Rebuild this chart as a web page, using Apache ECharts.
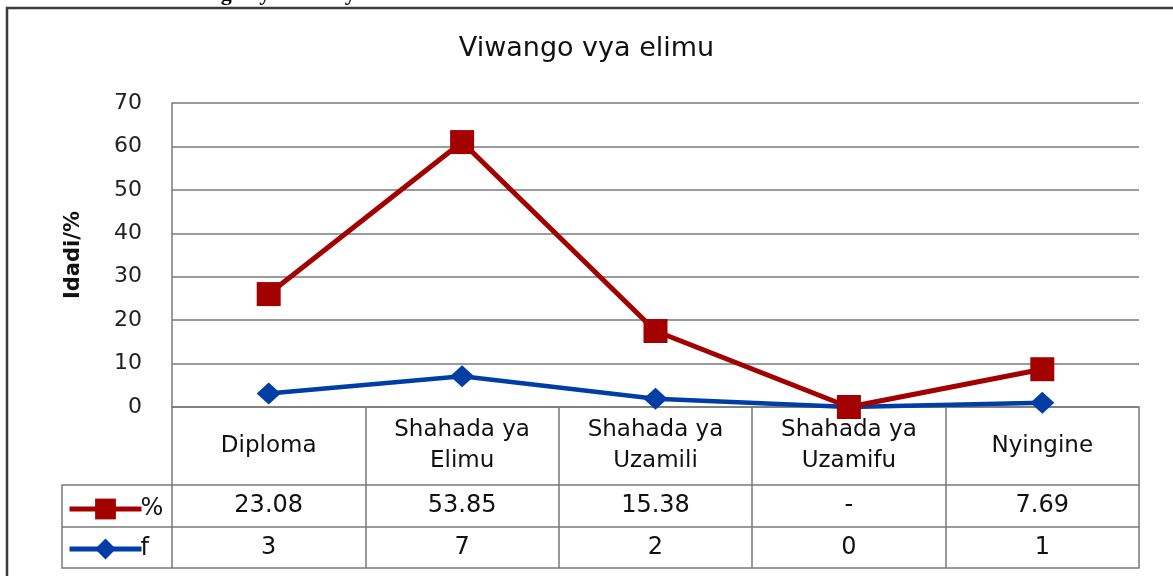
<!DOCTYPE html>
<html lang="sw">
<head>
    <meta charset="UTF-8">
    <title>Viwango vya elimu</title>
    <script src="https://cdn.jsdelivr.net/npm/echarts@6/dist/echarts.min.js"></script>
    <style>
        html, body { margin: 0; padding: 0; background: #fff; }
    </style>
</head>
<body>
<div id='box' style="width: 1173px;height:576px;"></div>
<script>
    // data
    var categories = ['Diploma', 'Shahada ya\nElimu', 'Shahada ya\nUzamili', 'Shahada ya\nUzamifu', 'Nyingine'];
    var pctValues = [26, 61, 17.5, 0, 8.7];      // plotted positions of the % line
    var fValues = [3.1, 7.1, 1.9, 0, 1];         // plotted positions of the f line
    var pctTable = ['23.08', '53.85', '15.38', '-', '7.69'];   // data table row %
    var fTable = ['3', '7', '2', '0', '1'];                    // data table row f
    var yTicks = [0, 70, 10];                                  // min, max, interval

    var red = '#A30000';
    var blue = '#003DA5';
    var gridCol = '#7a7a7a';
    var font = 'DejaVu Sans';

    var myChart = echarts.init(document.getElementById('box'));

    var option = {
        animation: false,
        title: {
            text: 'Viwango vya elimu',
            left: 'center',
            top: 30,
            textStyle: { fontFamily: font, fontSize: 27, fontWeight: 'normal', color: '#111' }
        },
        legend: {
            data: ['%', 'f'],
            orient: 'vertical',
            left: 62,
            top: 492,
            itemWidth: 72,
            itemHeight: 26,
            itemGap: 16,
            lineStyle: { width: 5 },
            textStyle: { fontFamily: font, fontSize: 24, color: '#111', padding: [0, 0, 0, -6] }
        },
        grid: { left: 172, right: 34, top: 103, bottom: 169 },
        xAxis: [
            {
                type: 'category',
                data: categories,
                boundaryGap: true,
                axisLine: { lineStyle: { color: gridCol, width: 1.5 } },
                axisTick: { show: true, interval: 0, length: 161, lineStyle: { color: gridCol, width: 1.5 } },
                axisLabel: {
                    interval: 0, margin: 39, verticalAlign: 'middle',
                    fontFamily: font, fontSize: 23, lineHeight: 31, color: '#111'
                }
            },
            {
                type: 'category',
                data: pctTable,
                position: 'bottom',
                offset: 78,
                axisLine: { lineStyle: { color: gridCol, width: 1.5 } },
                axisTick: { show: false },
                axisLabel: {
                    interval: 0, margin: 21, verticalAlign: 'middle',
                    fontFamily: font, fontSize: 24, color: '#111'
                }
            },
            {
                type: 'category',
                data: fTable,
                position: 'bottom',
                offset: 120,
                axisLine: { lineStyle: { color: gridCol, width: 1.5 } },
                axisTick: { show: false },
                axisLabel: {
                    interval: 0, margin: 21, verticalAlign: 'middle',
                    fontFamily: font, fontSize: 24, color: '#111'
                }
            },
            {
                type: 'category',
                data: categories,
                position: 'bottom',
                offset: 161,
                axisLine: { lineStyle: { color: gridCol, width: 1.5 } },
                axisTick: { show: false },
                axisLabel: { show: false }
            }
        ],
        yAxis: {
            type: 'value',
            min: yTicks[0],
            max: yTicks[1],
            interval: yTicks[2],
            name: 'Idadi/%',
            nameLocation: 'middle',
            nameGap: 88,
            nameTextStyle: { fontFamily: font, fontSize: 21, fontWeight: 'bold', color: '#111' },
            axisLine: { show: true, lineStyle: { color: gridCol, width: 1.5 } },
            axisTick: { show: false },
            axisLabel: { margin: 30, fontFamily: font, fontSize: 22, color: '#222' },
            splitLine: { lineStyle: { color: gridCol, width: 1.5 } }
        },
        series: [
            {
                name: '%',
                type: 'line',
                data: pctValues,
                symbol: 'rect',
                symbolSize: 24,
                lineStyle: { color: red, width: 5 },
                itemStyle: { color: red },
                z: 3
            },
            {
                name: 'f',
                type: 'line',
                data: fValues,
                symbol: 'diamond',
                symbolSize: [24, 22],
                lineStyle: { color: blue, width: 4.5 },
                itemStyle: { color: blue },
                z: 2
            }
        ],
        graphic: [
            // outer frame of the chart
            {
                type: 'rect',
                shape: { x: 7, y: 8, width: 1200, height: 620 },
                style: { fill: 'none', stroke: '#3a3a3a', lineWidth: 2.5 },
                silent: true
            },
            // caption line cut off at the top of the picture
            {
                type: 'text',
                x: 62,
                y: -17,
                style: {
                    text: 'Kielelezo: Viwango vya elimu ya wahitimu wa masters',
                    font: 'bold 22px "Liberation Serif"',
                    fill: '#000'
                },
                silent: true
            },
            // legend column of the data table
            {
                type: 'polyline',
                shape: { points: [[172, 485], [62, 485], [62, 568], [172, 568]] },
                style: { fill: 'none', stroke: gridCol, lineWidth: 1.5 },
                silent: true
            },
            {
                type: 'line',
                shape: { x1: 62, y1: 527, x2: 172, y2: 527 },
                style: { stroke: gridCol, lineWidth: 1.5 },
                silent: true
            }
        ]
    };
    myChart.setOption(option);
</script>
</body>
</html>
